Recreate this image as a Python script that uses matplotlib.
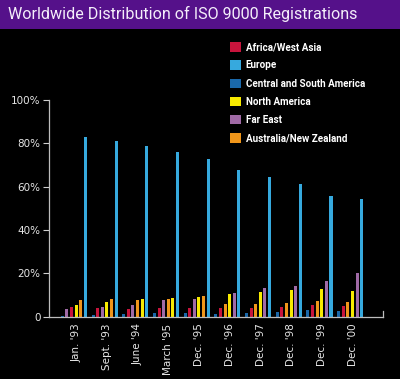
import numpy as np
import matplotlib
matplotlib.use("Agg")
import matplotlib.pyplot as plt
from matplotlib.patches import Rectangle, Patch

# categories and values (percent of registrations)
periods = ["Jan. '93", "Sept. '93", "June '94", "March '95", "Dec. '95",
           "Dec. '96", "Dec. '97", "Dec. '98", "Dec. '99", "Dec. '00"]
regions = ["Africa/West Asia", "Europe", "Central and South America",
           "North America", "Far East", "Australia/New Zealand"]
africa    = [4.3, 3.9, 3.6, 3.7, 3.7, 3.7, 4.0, 4.5, 5.1, 4.9]
europe    = [83.0, 81.2, 78.8, 75.8, 72.8, 67.6, 64.4, 61.2, 55.8, 54.2]
central   = [0.2, 0.5, 1.2, 1.4, 1.6, 1.2, 1.4, 2.0, 2.8, 2.6]
n_america = [5.5, 6.5, 8.0, 8.6, 9.1, 10.3, 11.1, 12.2, 12.9, 11.7]
far_east  = [3.5, 4.3, 5.4, 7.4, 8.3, 10.9, 13.2, 13.9, 16.2, 19.9]
australia = [7.7, 7.9, 7.7, 8.0, 9.4, 5.8, 5.8, 6.3, 7.2, 6.6]
y_ticks = [0, 20, 40, 60, 80, 100]
y_tick_labels = ["0", "20%", "40%", "60%", "80%", "100%"]

colors = ["#c8143c", "#36a9de", "#1a68aa", "#f8ea00", "#a06aa6", "#f0961a"]
series = np.array([africa, europe, central, n_america, far_east, australia])

fig = plt.figure(figsize=(4.0, 3.79), dpi=100, facecolor="black")

# purple title banner
fig.patches.append(Rectangle((0, 0.9235), 1, 0.0765, transform=fig.transFigure,
                             facecolor="#55118a", edgecolor="none"))
fig.text(0.02, 0.962, "Worldwide Distribution of ISO 9000 Registrations",
         color="#f4eefa", fontsize=11.6, va="center", ha="left",
         family=["Roboto", "DejaVu Sans"])

ax = fig.add_axes([0.1225, 0.1649, 0.835, 0.5712], facecolor="black")

# bars inside each group are ordered from smallest to largest
pitch = 0.15
width = 0.10
ranks = np.argsort(np.argsort(series, axis=0), axis=0)
x = np.arange(len(periods))
for s in range(len(regions)):
    pos = x + (ranks[s] - 2.5) * pitch
    ax.bar(pos, series[s], width=width, color=colors[s], linewidth=0)

ax.set_xlim(-0.81, 10.07)
ax.set_ylim(0, 100)
ax.set_yticks(y_ticks)
ax.set_yticklabels(y_tick_labels)
ax.set_xticks(x + 0.08)
ax.set_xticklabels(periods, rotation=90)
ax.tick_params(axis="x", length=0, pad=5, colors="#e6e6e6", labelsize=7.5)
ax.tick_params(axis="y", length=4, width=0.8, pad=2, colors="#cfcfcf",
               labelsize=7.5, labelcolor="#e6e6e6")
for side in ["top", "right"]:
    ax.spines[side].set_visible(False)
for side in ["left", "bottom"]:
    ax.spines[side].set_color("#bdbdbd")
    ax.spines[side].set_linewidth(0.9)
ax.plot([1, 1], [0, 0.025], transform=ax.transAxes, color="#bdbdbd",
        linewidth=0.9, clip_on=False)

handles = [Patch(facecolor=c, edgecolor="none") for c in colors]
leg = fig.legend(handles, regions, loc="upper left",
                 bbox_to_anchor=(0.553, 0.912), frameon=False,
                 handlelength=1.1, handleheight=1.1, handletextpad=0.5,
                 labelspacing=0.82,
                 prop={"size": 7.1, "weight": "bold", "family": "Roboto"},
                 labelcolor="white")

fig.savefig("out.png", dpi=100, facecolor="black")
